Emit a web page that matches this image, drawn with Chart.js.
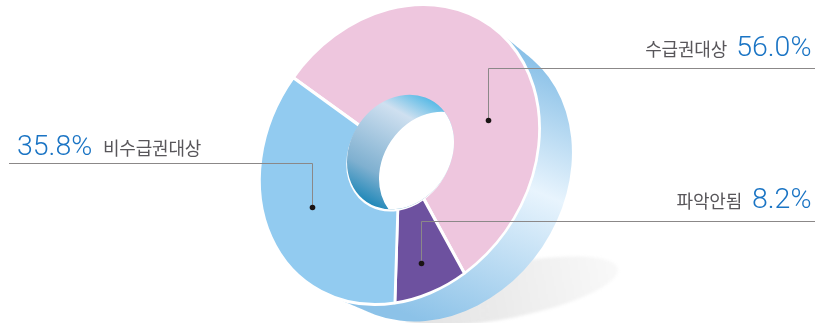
<!DOCTYPE html>
<html lang="ko">
<head>
<meta charset="utf-8">
<style>
html,body{margin:0;padding:0;background:#fff;}
#wrap{position:relative;width:815px;height:323px;overflow:hidden;}
canvas{position:absolute;left:0;top:0;}
.t{position:absolute;white-space:nowrap;line-height:1;}
.name{font-family:"Noto Sans CJK KR","Noto Sans",sans-serif;font-size:18px;color:#58565a;letter-spacing:-.2px;}
.pct{font-family:Roboto,"Liberation Sans",sans-serif;font-weight:300;font-size:28.5px;color:#1a74c4;}
</style>
<script src="https://cdn.jsdelivr.net/npm/chart.js@4"></script>
</head>
<body>
<div id="wrap"><canvas id="c" width="815" height="323"></canvas></div>
<script>
const categories = ['수급권대상', '파악안됨', '비수급권대상'];
const shareValues = [56.0, 8.2, 35.8];
const sliceColors = ['#eec6de', '#6d519f', '#92cbf0'];

// layout only
const CX = 399.5, CY = 154.5;
const M = {a: 139.5, b: -12.6, c: -12.6, d: 149.5};
const DEPTH = {x: 32, y: 17};
const BACK = {x: 38, y: 23, scale: 0.96};
const HOLE_CENTER = {x: 1, y: -2.5};
const CUTOUT = 0.37;
const WALL = 0.382;
const leaders = [
  {dot: [488, 120], elbow: [488, 68], end: [815, 68]},
  {dot: [421, 263], elbow: [421, 221], end: [815, 221]},
  {dot: [312, 207], elbow: [312, 163], end: [9, 163]}
];
const labelPos = [
  {pctRight: 3.5, pctTop: 33, nameRight: 88, nameTop: 39},
  {pctRight: 3.5, pctTop: 185, nameRight: 73, nameTop: 191},
  {pctLeft: 17, pctTop: 132, nameLeft: 103, nameTop: 138}
];

function unitEllipse(ctx, ox, oy, r) {
  ctx.save();
  ctx.transform(M.a, M.c, M.b, M.d, ox, oy);
  ctx.moveTo(r, 0);
  ctx.arc(0, 0, r, 0, Math.PI * 2);
  ctx.restore();
}

const solidBody = {
  id: 'solidBody',
  beforeDatasetsDraw(chart) {
    const ctx = chart.ctx;
    // ground shadow
    ctx.save();
    ctx.filter = 'blur(1.5px)';
    ctx.translate(508, 291);
    ctx.rotate(-0.2);
    ctx.scale(112, 27);
    const sg = ctx.createLinearGradient(-1, 0, 1, 0);
    sg.addColorStop(0, 'rgba(214,214,214,0.75)');
    sg.addColorStop(0.5, 'rgba(228,228,228,0.7)');
    sg.addColorStop(1, 'rgba(246,246,246,0.7)');
    ctx.fillStyle = sg;
    ctx.beginPath();
    ctx.arc(0, 0, 1, 0, Math.PI * 2);
    ctx.fill();
    ctx.restore();
    // extruded rim: the face outline swept along the depth vector
    ctx.save();
    ctx.beginPath();
    for (let i = 0; i <= 40; i++) {
      const t = i / 40;
      unitEllipse(ctx, CX + BACK.x * t, CY + BACK.y * t, 1 + (BACK.scale - 1) * t);
    }
    const g = ctx.createLinearGradient(530, 60, 420, 320);
    g.addColorStop(0, '#8cc2e8');
    g.addColorStop(0.42, '#e8f4fd');
    g.addColorStop(1, '#8cc2e8');
    ctx.fillStyle = g;
    ctx.fill();
    ctx.restore();
    // map the library's circular doughnut on to the tilted face
    const arc = chart.getDatasetMeta(0).data[0];
    const k = 1 / arc.outerRadius;
    ctx.save();
    ctx.transform(M.a * k, M.c * k, M.b * k, M.d * k, CX, CY);
    ctx.translate(-arc.x, -arc.y);
  },
  afterDatasetsDraw(chart) {
    const ctx = chart.ctx;
    ctx.restore();
    const hx = CX + HOLE_CENTER.x, hy = CY + HOLE_CENTER.y;
    // inner wall of the hole
    ctx.save();
    ctx.beginPath();
    unitEllipse(ctx, hx, hy, WALL);
    ctx.clip();
    const w = ctx.createLinearGradient(435, 90, 370, 208);
    w.addColorStop(0, '#29abe2');
    w.addColorStop(0.27, '#cfe0f0');
    w.addColorStop(0.75, '#7fb0d0');
    w.addColorStop(1, '#1784b6');
    ctx.fillStyle = w;
    ctx.fillRect(0, 0, 815, 323);
    ctx.fillStyle = '#fff';
    ctx.beginPath();
    unitEllipse(ctx, hx + DEPTH.x, hy + DEPTH.y, WALL);
    ctx.fill();
    ctx.restore();
    // leader lines
    leaders.forEach(l => {
      ctx.strokeStyle = '#8b8888';
      ctx.lineWidth = 1;
      ctx.beginPath();
      ctx.moveTo(l.dot[0] + 0.5, l.dot[1]);
      ctx.lineTo(l.elbow[0] + 0.5, l.elbow[1] + 0.5);
      ctx.lineTo(l.end[0], l.end[1] + 0.5);
      ctx.stroke();
      ctx.fillStyle = '#1a1414';
      ctx.beginPath();
      ctx.arc(l.dot[0] + 0.5, l.dot[1] + 0.5, 2.8, 0, Math.PI * 2);
      ctx.fill();
    });
  }
};

new Chart(document.getElementById('c'), {
  type: 'doughnut',
  data: {
    labels: categories,
    datasets: [{
      data: shareValues,
      backgroundColor: sliceColors,
      borderColor: '#ffffff',
      borderWidth: 3.2,
      hoverOffset: 0
    }]
  },
  options: {
    responsive: false,
    animation: false,
    rotation: 305.6,
    cutout: (CUTOUT * 100) + '%',
    layout: {padding: 0},
    plugins: {legend: {display: false}, tooltip: {enabled: false}}
  },
  plugins: [solidBody]
});

const wrap = document.getElementById('wrap');
function addText(cls, text, pos, side, top) {
  const s = document.createElement('span');
  s.className = 't ' + cls;
  s.textContent = text;
  s.style[side] = pos + 'px';
  s.style.top = top + 'px';
  wrap.appendChild(s);
}
categories.forEach((name, i) => {
  const p = labelPos[i];
  const pct = shareValues[i].toFixed(1) + '%';
  if (p.pctRight !== undefined) {
    addText('pct', pct, p.pctRight, 'right', p.pctTop);
    addText('name', name, p.nameRight, 'right', p.nameTop);
  } else {
    addText('pct', pct, p.pctLeft, 'left', p.pctTop);
    addText('name', name, p.nameLeft, 'left', p.nameTop);
  }
});
</script>
</body>
</html>
